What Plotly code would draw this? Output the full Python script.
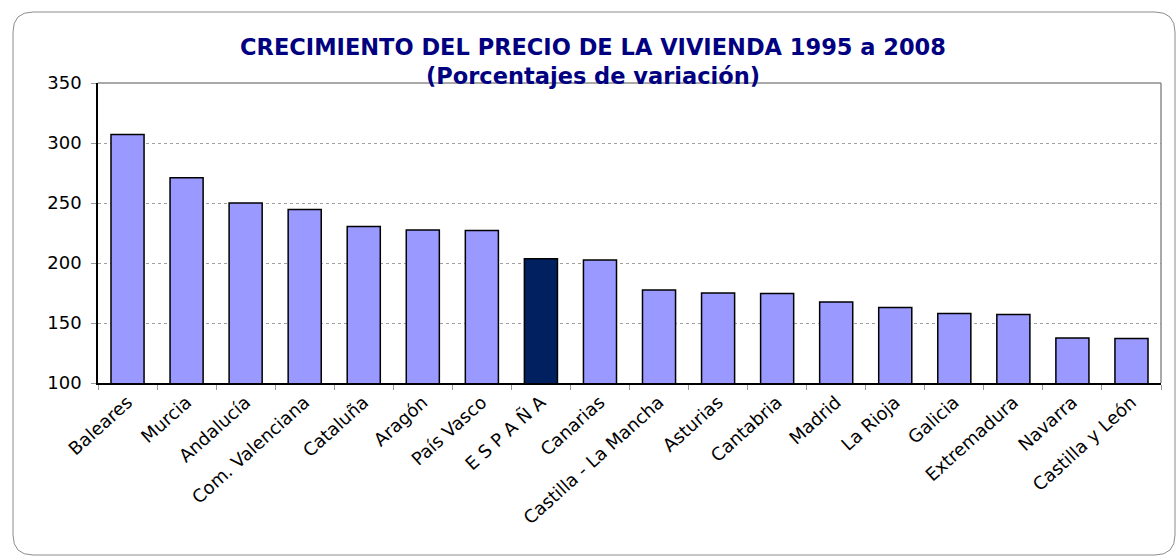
import plotly.graph_objects as go

regiones = ["Baleares", "Murcia", "Andalucía", "Com. Valenciana", "Cataluña",
            "Aragón", "País Vasco", "E S P A Ñ A", "Canarias",
            "Castilla - La Mancha", "Asturias", "Cantabria", "Madrid",
            "La Rioja", "Galicia", "Extremadura", "Navarra", "Castilla y León"]
variacion = [307, 271, 250, 244.5, 230.5, 227.5, 227, 203.5, 202.5,
             177.5, 175, 174.5, 167.5, 163, 158, 157, 137.5, 137]
y_ticks = [100, 150, 200, 250, 300, 350]

W, H = 1176, 558
L, R, T, B = 98, 15, 83, 175
pw, ph = W - L - R, H - T - B

colores = ["#002060" if r == "E S P A Ñ A" else "#9999FF" for r in regiones]

fig = go.Figure(go.Bar(
    x=regiones, y=variacion, base=0,
    marker=dict(color=colores, line=dict(color="#000000", width=1.5)),
))


def px(x):
    return (x - L) / pw


def py(y):
    return (H - B - y) / ph


# rounded outer frame of the chart
x0, x1, y0, y1, rad = 13, 1175, 12, 555, 20
frame = (f"M {px(x0)},{py(y0 + rad)} Q {px(x0)},{py(y0)} {px(x0 + rad)},{py(y0)} "
         f"L {px(x1 - rad)},{py(y0)} Q {px(x1)},{py(y0)} {px(x1)},{py(y0 + rad)} "
         f"L {px(x1)},{py(y1 - rad)} Q {px(x1)},{py(y1)} {px(x1 - rad)},{py(y1)} "
         f"L {px(x0 + rad)},{py(y1)} Q {px(x0)},{py(y1)} {px(x0)},{py(y1 - rad)} Z")

fig.update_layout(
    width=W, height=H,
    margin=dict(l=L, r=R, t=T, b=B),
    paper_bgcolor="white", plot_bgcolor="white",
    bargap=0.44,
    showlegend=False,
    font=dict(family="DejaVu Sans", color="#000000"),
    title=dict(
        text="CRECIMIENTO DEL PRECIO DE LA VIVIENDA 1995 a 2008<br>(Porcentajes de variación)",
        x=(593 - L) / pw, xref="paper", xanchor="center",
        y=1 - 55 / H, yanchor="middle",
        font=dict(family="DejaVu Sans", size=22.5, color="#000080", weight="bold"),
    ),
    shapes=[
        dict(type="path", path=frame, xref="paper", yref="paper",
             line=dict(color="#8c8c8c", width=1), layer="below"),
        dict(type="line", xref="paper", yref="paper", x0=0, x1=1, y0=1, y1=1,
             line=dict(color="#8c8c8c", width=1.5)),
        dict(type="line", xref="paper", yref="paper", x0=1, x1=1, y0=0, y1=1,
             line=dict(color="#8c8c8c", width=1.5)),
    ],
)

fig.update_xaxes(
    tickangle=-42, tickfont=dict(size=18),
    showline=True, linecolor="#000000", linewidth=1.5,
    ticks="outside", ticklen=5, tickcolor="#999999", tickson="boundaries",
    showgrid=False,
)
fig.update_yaxes(
    range=[100, 350], tickvals=y_ticks, tickfont=dict(size=18),
    ticklabelstandoff=6,
    showline=True, linecolor="#000000", linewidth=1.5,
    ticks="outside", ticklen=5, tickcolor="#999999",
    showgrid=True, gridcolor="#a0a0a0", griddash="dot", gridwidth=1,
    zeroline=False,
)

fig.write_html("out.html")
